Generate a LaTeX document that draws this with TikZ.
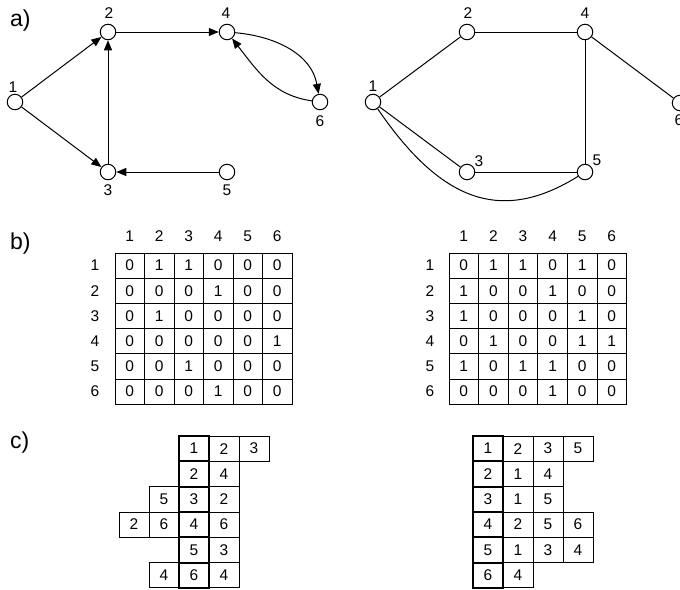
\documentclass[tikz,border=0pt]{standalone}
\usepackage{fontspec}
\setmainfont{Liberation Sans}
\usetikzlibrary{arrows.meta}
\begin{document}
\begin{tikzpicture}[x=1pt,y=-1pt,
  vert/.style={circle,draw,line width=1pt,minimum size=15.5pt,inner sep=0pt,fill=white},
  lbl/.style={font=\fontsize{15.5}{15.5}\selectfont,inner sep=0pt},
  part/.style={font=\fontsize{23}{23}\selectfont,inner sep=0pt,anchor=west},
  edge/.style={line width=1pt},
  arr/.style={edge,-{Triangle[length=10pt,width=8pt]}},
  cell/.style={draw,line width=0.8pt,minimum width=29.5pt,minimum height=25.2pt,inner sep=0pt,font=\fontsize{15.5}{15.5}\selectfont},
  lcell/.style={draw,line width=0.8pt,minimum width=30pt,minimum height=25.3pt,inner sep=0pt,font=\fontsize{15.5}{15.5}\selectfont},
  hcell/.style={lcell,line width=2pt}
]
\useasboundingbox (0,0) rectangle (680,589);

% part labels
\node[part] (pa) at (10,21) {a)};
\node[part] (pb) at (10,244) {b)};
\node[part] (pc) at (10,443) {c)};

% ---------- left directed graph ----------
\node[vert] (a1) at (15,102) {};
\node[vert] (a2) at (108,32) {};
\node[vert] (a4) at (227,32) {};
\node[vert] (a6) at (320,102) {};
\node[vert] (a3) at (108,172) {};
\node[vert] (a5) at (227,172) {};
\node[lbl] (la1) at (13,87) {1};
\node[lbl] (la2) at (109,13) {2};
\node[lbl] (la4) at (226,13) {4};
\node[lbl] (la6) at (320,121) {6};
\node[lbl] (la3) at (108,190) {3};
\node[lbl] (la5) at (227,190) {5};
\draw[arr] (a1) -- (a2);
\draw[arr] (a1) -- (a3);
\draw[arr] (a2) -- (a4);
\draw[arr] (a3) -- (a2);
\draw[arr] (a5) -- (a3);
\draw[arr] (a4) to[out=-5,in=100] (a6);
\draw[arr] (a6) to[out=172,in=-52] (a4);

% ---------- right undirected graph ----------
\node[vert] (b1) at (373,102) {};
\node[vert] (b2) at (467,32) {};
\node[vert] (b4) at (585,32) {};
\node[vert] (b6) at (680,103) {};
\node[vert] (b3) at (467,172) {};
\node[vert] (b5) at (585,172) {};
\node[lbl] (lb1) at (373,86) {1};
\node[lbl] (lb2) at (468,13) {2};
\node[lbl] (lb4) at (585,13) {4};
\node[lbl] (lb6) at (679,120) {6};
\node[lbl] (lb3) at (479,161) {3};
\node[lbl] (lb5) at (597,160) {5};
\draw[edge] (b1) -- (b2);
\draw[edge] (b2) -- (b4);
\draw[edge] (b4) -- (b6);
\draw[edge] (b4) -- (b5);
\draw[edge] (b3) -- (b5);
\draw[edge] (b1) -- (b3);
\draw[edge] (b1) .. controls (440,200) and (500,225) .. (b5);

% ---------- adjacency matrices ----------
\foreach \c in {1,...,6} {
  \node[lbl] (ha\c) at ({115+29.5*(\c-0.5)},236) {\c};
  \node[lbl] (hb\c) at ({449+29.6*(\c-0.5)},236) {\c};
  \node[lbl] (ra\c) at (95,{253+25.2*(\c-0.5)}) {\c};
  \node[lbl] (rb\c) at (430,{253+25.2*(\c-0.5)}) {\c};
}
\foreach \row [count=\r] in {{0,1,1,0,0,0},{0,0,0,1,0,0},{0,1,0,0,0,0},{0,0,0,0,0,1},{0,0,1,0,0,0},{0,0,0,1,0,0}} {
  \foreach \v [count=\c] in \row {
    \node[cell] (ma-\r-\c) at ({115+29.5*(\c-0.5)},{253+25.2*(\r-0.5)}) {\v};
  }
}
\foreach \row [count=\r] in {{0,1,1,0,1,0},{1,0,0,1,0,0},{1,0,0,0,1,0},{0,1,0,0,1,1},{1,0,1,1,0,0},{0,0,0,1,0,0}} {
  \foreach \v [count=\c] in \row {
    \node[cell,minimum width=29.6pt] (mb-\r-\c) at ({449+29.6*(\c-0.5)},{253+25.2*(\r-0.5)}) {\v};
  }
}

% ---------- adjacency lists ----------
\foreach \r/\c/\v in {1/1/2,1/2/3, 2/1/4, 3/-1/5,3/1/2, 4/-2/2,4/-1/6,4/1/6, 5/1/3, 6/-1/4,6/1/4} {
  \node[lcell] (la-\r-\c) at ({194+30*\c},{436+25.3*(\r-0.5)}) {\v};
}
\foreach \r/\v in {1/1,2/2,3/3,4/4,5/5,6/6} {
  \node[hcell] (ka-\r) at (194,{436+25.3*(\r-0.5)}) {\v};
}
\foreach \r/\c/\v in {1/1/2,1/2/3,1/3/5, 2/1/1,2/2/4, 3/1/1,3/2/5, 4/1/2,4/2/5,4/3/6, 5/1/1,5/2/3,5/3/4, 6/1/4} {
  \node[lcell] (lb-\r-\c) at ({488+30*\c},{436+25.3*(\r-0.5)}) {\v};
}
\foreach \r/\v in {1/1,2/2,3/3,4/4,5/5,6/6} {
  \node[hcell] (kb-\r) at (488,{436+25.3*(\r-0.5)}) {\v};
}
\end{tikzpicture}
\end{document}
